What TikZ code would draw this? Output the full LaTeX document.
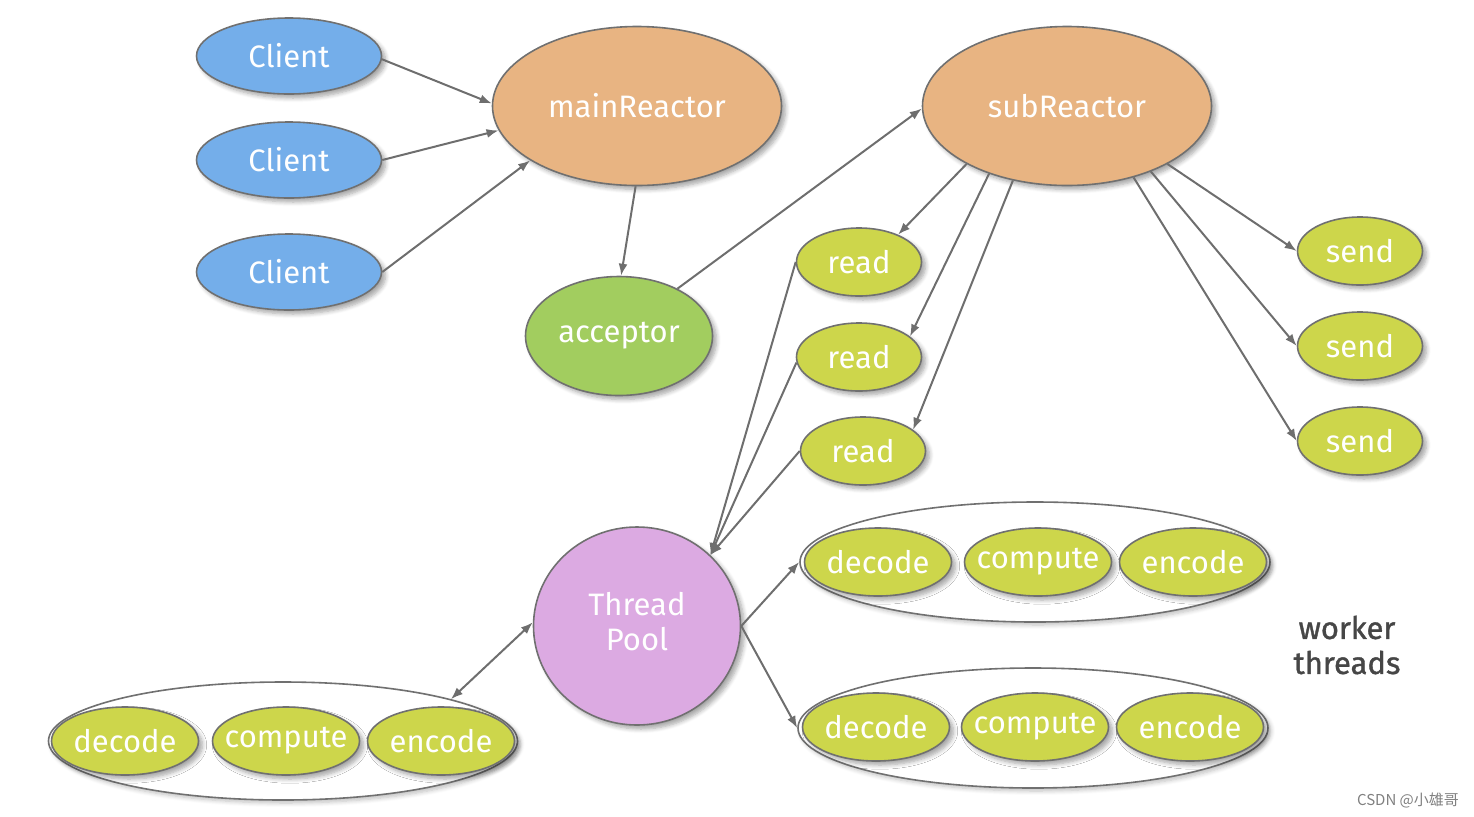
\documentclass[tikz,border=0pt]{standalone}
\usepackage{fontspec}
\setmainfont{Fira Sans}
\newfontfamily\medfont[FakeBold=1.2]{Fira Sans}
\newfontfamily\cjkfont{Noto Sans CJK SC}
\usetikzlibrary{shapes.geometric,arrows.meta,shadows.blur}
\definecolor{cblue}{RGB}{116,174,234}
\definecolor{corange}{RGB}{232,180,130}
\definecolor{cgreen}{RGB}{162,205,95}
\definecolor{cyellow}{RGB}{205,214,75}
\definecolor{cpurple}{RGB}{220,170,226}
\definecolor{bordergray}{RGB}{112,112,112}
\definecolor{linegray}{RGB}{110,110,110}
\definecolor{textdark}{RGB}{70,70,70}
\newcommand{\zb}[1]{\makebox[0pt]{#1}}
\begin{document}
\begin{tikzpicture}[x=0.5pt,y=-0.5pt,
  every node/.style={font=\fontsize{15.5}{17.5}\selectfont},
  blob/.style={ellipse, draw=bordergray, line width=0.8pt, inner sep=0pt, text=white,
    blur shadow={shadow xshift=2pt, shadow yshift=-2pt, shadow blur steps=6, shadow opacity=35}},
  clientnode/.style={blob, fill=cblue, minimum width=92.5pt, minimum height=38pt},
  reactor/.style={blob, fill=corange, minimum width=144.5pt, minimum height=79.5pt},
  acceptornode/.style={blob, fill=cgreen, minimum width=93.5pt, minimum height=59.5pt},
  small/.style={blob, fill=cyellow, minimum width=62.5pt, minimum height=34pt},
  work/.style={blob, fill=cyellow, minimum width=73.5pt, minimum height=34pt},
  poolnode/.style={blob, fill=cpurple, minimum width=103.5pt, minimum height=99pt},
  group/.style={ellipse, draw=bordergray, line width=0.8pt, fill=white, inner sep=0pt,
    minimum width=235pt, minimum height=60pt,
    blur shadow={shadow xshift=1.5pt, shadow yshift=-1.5pt, shadow blur steps=6, shadow opacity=25}},
  conn/.style={draw=linegray, line width=1pt, -{Latex[length=6pt,width=4.5pt]}},
  biconn/.style={draw=linegray, line width=1pt, {Latex[length=6pt,width=4.5pt]}-{Latex[length=6pt,width=4.5pt]}}
]
\useasboundingbox (0,0) rectangle (1474,816);

% clients and reactors
\node[clientnode] (c1) at (289,56) {\zb{Client}};
\node[clientnode] (c2) at (289,160) {\zb{Client}};
\node[clientnode] (c3) at (289,272) {\zb{Client}};
\node[reactor] (main) at (637,106) {\zb{mainReactor}};
\node[reactor] (sub) at (1067,106) {\zb{subReactor}};
\node[acceptornode] (acc) at (619,336) {\zb{acceptor}};

% read / send
\node[small] (r1) at (859,262) {\zb{read}};
\node[small] (r2) at (859,357) {\zb{read}};
\node[small] (r3) at (863,451) {\zb{read}};
\node[small] (s1) at (1360,251) {\zb{send}};
\node[small] (s2) at (1360,346) {\zb{send}};
\node[small] (s3) at (1360,441) {\zb{send}};

% thread pool
\node[poolnode] (tp) at (637,626) {\raisebox{2.5pt}{\begin{tabular}{@{}c@{}}Thread\\Pool\end{tabular}}};

% worker groups
\node[group, minimum width=234.5pt, minimum height=59pt] (gl) at (283,741) {};
\node[work] (gld) at (125,741) {\zb{decode}};
\node[work] (glc) at (286,741) {\zb{compute}};
\node[work] (gle) at (441,741) {\zb{encode}};

\node[group] (ga) at (1035,562) {};
\node[work] (gad) at (878,562) {\zb{decode}};
\node[work] (gac) at (1038,562) {\zb{compute}};
\node[work] (gae) at (1193,562) {\zb{encode}};

\node[group] (gb) at (1033,728) {};
\node[work] (gbd) at (876,727) {\zb{decode}};
\node[work] (gbc) at (1035,727) {\zb{compute}};
\node[work] (gbe) at (1190,727) {\zb{encode}};

\node[text=textdark, align=center, font=\medfont\fontsize{15.5}{17.5}\selectfont] (wt) at (1347,645) {worker\\threads};
\node[text=gray, font=\cjkfont\fontsize{7.5}{9}\selectfont] (wm) at (1408,800) {CSDN @小雄哥};

% connectors
\draw[conn] (c1.-2) -- (main.179);
\draw[conn] (c2.east) -- (main.190);
\draw[conn] (c3.east) -- (main.207);
\draw[conn] (main.-91) -- (acc.88);
\draw[conn] (acc.39) -- (sub.181);

\draw[conn] (sub.210) -- (r1.35);
\draw[conn] (sub.221) -- (r2.22);
\draw[conn] (sub.234) -- (r3.23);

\draw[conn] (sub.-30) -- (s1.west);
\draw[conn] (sub.-38) -- (s2.west);
\draw[conn] (sub.-47) -- (s3.west);

\draw[conn] (r1.west) -- (tp.44);
\draw[conn] (r2.185) -- (tp.44);
\draw[conn] (r3.west) -- (tp.44);

\draw[biconn] (gl.14) -- (tp.178);
\draw[conn] (tp.east) -- (ga.west);
\draw[conn] (tp.east) -- (gb.west);
\end{tikzpicture}
\end{document}
